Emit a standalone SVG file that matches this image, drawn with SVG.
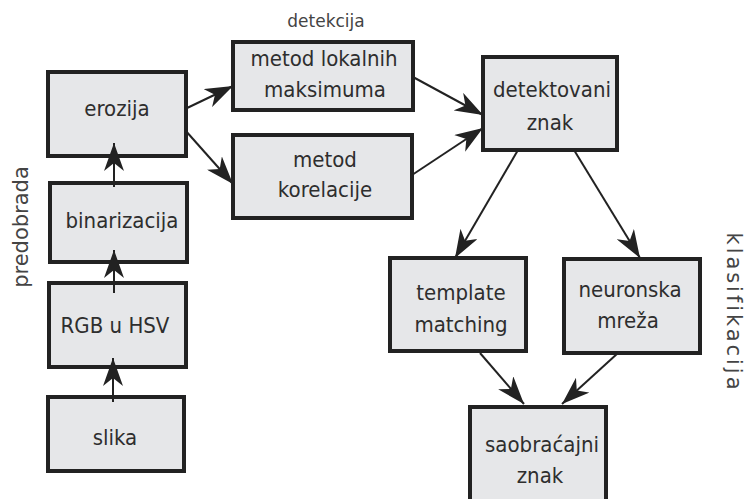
<svg xmlns="http://www.w3.org/2000/svg" width="748" height="499" viewBox="0 0 748 499">
<style>
.box{fill:#e6e7e9;stroke:#222;stroke-width:4}
.t{font-family:"DejaVu Sans Condensed","DejaVu Sans",sans-serif;font-stretch:condensed;font-size:22px;fill:#2e2e2e;text-anchor:middle}
.lbl{font-family:"DejaVu Sans",sans-serif;font-size:20px;fill:#444;text-anchor:middle;font-variant-ligatures:none}
.c{fill:none;stroke:#222;stroke-width:2}
</style>
<defs>
<marker id="ah" viewBox="0 0 28 20" refX="28" refY="10" markerWidth="28" markerHeight="20" markerUnits="userSpaceOnUse" orient="auto">
<path d="M0,0 L28,10 L0,20 L8,10 z" fill="#222"/>
</marker>
</defs>
<rect width="748" height="499" fill="#fff"/>
<g id="labels">
<text class="lbl" x="326" y="27" style="font-size:17px">detekcija</text>
<text class="lbl" transform="translate(28,227) rotate(-90)" style="font-size:21px">predobrada</text>
<text class="lbl" transform="translate(727,311) rotate(90)" style="font-size:21px" textLength="157" lengthAdjust="spacing">klasifikacija</text>
</g>
<g id="nodes">
<g id="erozija"><rect class="box" x="48" y="72" width="138" height="84"/><text class="t" x="117" y="116">erozija</text></g>
<g id="binarizacija"><rect class="box" x="50" y="183" width="137" height="79"/><text class="t" x="122" y="228">binarizacija</text></g>
<g id="rgb"><rect class="box" x="49" y="283" width="137" height="84"/><text class="t" x="115" y="333">RGB u HSV</text></g>
<g id="slika"><rect class="box" x="48" y="397" width="136" height="74"/><text class="t" x="115" y="445">slika</text></g>
<g id="lokalni"><rect class="box" x="233" y="42" width="180" height="68"/><text class="t" x="324" y="66">metod lokalnih</text><text class="t" x="325" y="97">maksimuma</text></g>
<g id="korelacija"><rect class="box" x="233" y="135" width="179" height="83"/><text class="t" x="325" y="167">metod</text><text class="t" x="325" y="197">korelacije</text></g>
<g id="detektovani"><rect class="box" x="483" y="57" width="134" height="93"/><text class="t" x="552" y="97">detektovani</text><text class="t" x="550" y="130">znak</text></g>
<g id="template"><rect class="box" x="390" y="258" width="136" height="93"/><text class="t" x="461" y="300">template</text><text class="t" x="461" y="332">matching</text></g>
<g id="neuronska"><rect class="box" x="564" y="259" width="136" height="94"/><text class="t" x="630" y="297">neuronska</text><text class="t" x="628" y="328">mreža</text></g>
<g id="saobracajni"><rect class="box" x="470" y="407" width="136" height="100"/><text class="t" x="542" y="452">saobraćajni</text><text class="t" x="540" y="483">znak</text></g>
</g>
<g id="connectors">
<path class="c" marker-end="url(#ah)" d="M185,109 L233,86"/>
<path class="c" marker-end="url(#ah)" d="M185,130 L233,184"/>
<path class="c" marker-end="url(#ah)" d="M413,77 L483,115"/>
<path class="c" marker-end="url(#ah)" d="M412,175 L483,128"/>
<path class="c" marker-end="url(#ah)" d="M518,150 L455,258"/>
<path class="c" marker-end="url(#ah)" d="M574,150 L640,258"/>
<path class="c" marker-end="url(#ah)" d="M480,353 L524,404"/>
<path class="c" marker-end="url(#ah)" d="M618,353 L562,404"/>
<path class="c" marker-end="url(#ah)" d="M114,187 L114,143"/>
<path class="c" marker-end="url(#ah)" d="M114,293 L114,250"/>
<path class="c" marker-end="url(#ah)" d="M113,402 L113,358"/>
</g>
</svg>
